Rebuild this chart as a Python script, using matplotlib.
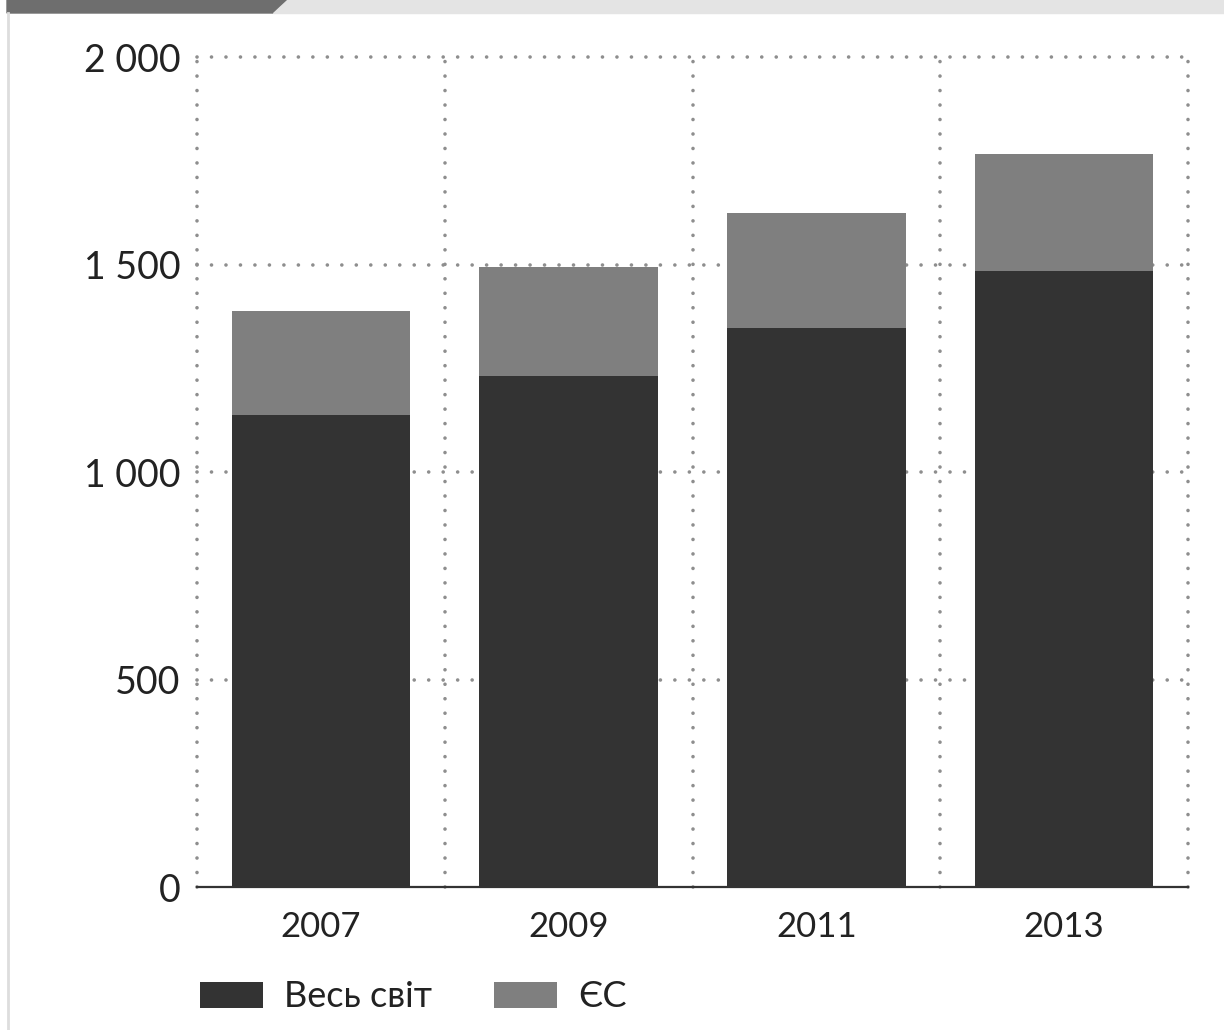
import matplotlib.pyplot as plt
from matplotlib.patches import Polygon
from matplotlib.lines import Line2D

years = ["2007", "2009", "2011", "2013"]
world = [1137, 1231, 1347, 1484]
eu = [251, 263, 277, 282]
yticks = [0, 500, 1000, 1500, 2000]
ytick_labels = ["0", "500", "1 000", "1 500", "2 000"]

plt.rcParams["font.family"] = ["Lato", "DejaVu Sans"]

W, H = 1224, 1030
fig = plt.figure(figsize=(W / 100, H / 100), dpi=100)


def px(x, y):
    return x / W, 1 - y / H


# top banner and left border
fig.patches.append(Polygon([px(7, 0), px(287, 0), px(273, 13), px(7, 13)],
                           closed=True, transform=fig.transFigure,
                           color="#6e6e6e", zorder=0))
fig.patches.append(Polygon([px(287, 0), px(W, 0), px(W, 13), px(273, 13)],
                           closed=True, transform=fig.transFigure,
                           color="#e4e4e4", zorder=0))
fig.lines.append(Line2D([8 / W, 8 / W], [0, 1 - 13 / H], transform=fig.transFigure,
                        color="#dddddd", lw=2))

ax = fig.add_axes([197 / W, 1 - 887 / H, (1188 - 197) / W, (887 - 57) / H])
x = range(len(years))
ax.bar(x, world, width=0.72, color="#333333", label="Весь світ", zorder=3)
ax.bar(x, eu, width=0.72, bottom=world, color="#7f7f7f", label="ЄС", zorder=3)

ax.set_xlim(-0.5, len(years) - 0.5)
ax.set_ylim(0, 2000)
for s in ax.spines.values():
    s.set_visible(False)

dots = dict(color="#8e8e8e", lw=2.6, linestyle=(0, (0.01, 4.0)), zorder=1,
            clip_on=False, dash_capstyle="round")
for yv in yticks[1:]:
    ax.axhline(yv, **dots)
for xv in [-0.5, 0.5, 1.5, 2.5, 3.5]:
    ax.axvline(xv, **dots)
ax.axhline(0, color="#333333", lw=1.6, zorder=4, clip_on=False)

ax.set_xticks(list(x))
ax.set_xticklabels(years)
ax.set_yticks(yticks)
ax.set_yticklabels(ytick_labels)
ax.tick_params(axis="y", length=0, pad=12, labelsize=27, colors="#222222")
ax.tick_params(axis="x", length=0, pad=17, labelsize=25, colors="#222222")

leg = ax.legend(loc="upper left", bbox_to_anchor=(-0.012, -0.095), ncol=2,
                frameon=False, fontsize=26, handlelength=1.75, handleheight=0.72,
                handletextpad=0.6, columnspacing=1.7, borderaxespad=0)
for t in leg.get_texts():
    t.set_color("#222222")

fig.savefig("out.png", dpi=100, facecolor="white")
